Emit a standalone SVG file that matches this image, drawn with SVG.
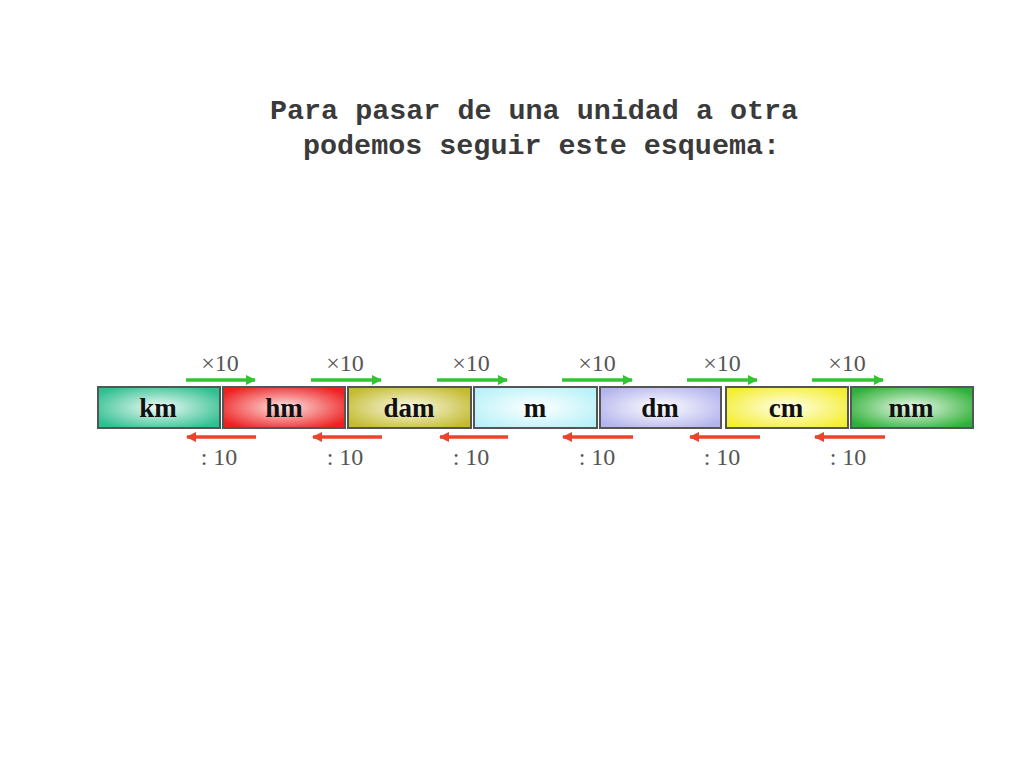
<svg xmlns="http://www.w3.org/2000/svg" width="1024" height="768" viewBox="0 0 1024 768">
<style>
.title{font-family:"Liberation Mono","Courier New",monospace;font-weight:bold;font-size:28.4px;fill:#3a3a3a}
.unit{font-family:"Liberation Serif","Times New Roman",serif;font-weight:bold;font-size:27px;fill:#111;text-anchor:middle}
.lbl{font-family:"Liberation Serif","Times New Roman",serif;font-size:24px;fill:#555;text-anchor:middle}
.box{stroke:#555;stroke-width:2}
.g{stroke:#33c433;stroke-width:3.5;fill:none}
.r{stroke:#e8452c;stroke-width:3.5;fill:none}
</style>
<defs>
<radialGradient id="gkm" cx="0.5" cy="0.5" r="0.6"><stop offset="0" stop-color="#f2fbf7"/><stop offset="1" stop-color="#2fbf90"/></radialGradient>
<radialGradient id="ghm" cx="0.5" cy="0.5" r="0.6"><stop offset="0" stop-color="#fde8e8"/><stop offset="1" stop-color="#ee2020"/></radialGradient>
<radialGradient id="gdam" cx="0.5" cy="0.5" r="0.6"><stop offset="0" stop-color="#fbfae8"/><stop offset="1" stop-color="#c3bb30"/></radialGradient>
<radialGradient id="gm" cx="0.5" cy="0.5" r="0.6"><stop offset="0" stop-color="#ffffff"/><stop offset="1" stop-color="#b8f2f8"/></radialGradient>
<radialGradient id="gdm" cx="0.5" cy="0.5" r="0.6"><stop offset="0" stop-color="#ffffff"/><stop offset="1" stop-color="#b4b4ee"/></radialGradient>
<radialGradient id="gcm" cx="0.5" cy="0.5" r="0.6"><stop offset="0" stop-color="#ffffee"/><stop offset="1" stop-color="#f4ee30"/></radialGradient>
<radialGradient id="gmm" cx="0.5" cy="0.5" r="0.6"><stop offset="0" stop-color="#eef9ee"/><stop offset="1" stop-color="#30b038"/></radialGradient>
<marker id="ag" viewBox="0 0 10 10" refX="9" refY="5" markerWidth="3" markerHeight="3" orient="auto" markerUnits="strokeWidth"><path d="M0,0 L10,5 L0,10 z" fill="#33c433"/></marker>
<marker id="ar" viewBox="0 0 10 10" refX="9" refY="5" markerWidth="3" markerHeight="3" orient="auto" markerUnits="strokeWidth"><path d="M0,0 L10,5 L0,10 z" fill="#e8452c"/></marker>
</defs>
<rect width="1024" height="768" fill="#ffffff"/>
<g id="title">
<text class="title" x="270" y="119">Para pasar de una unidad a otra</text>
<text class="title" x="303" y="154">podemos seguir este esquema:</text>
</g>
<g id="node-km"><rect class="box" x="98" y="387" width="122" height="41" fill="url(#gkm)"/><text class="unit" x="158" y="417">km</text></g>
<g id="node-hm"><rect class="box" x="223" y="387" width="122" height="41" fill="url(#ghm)"/><text class="unit" x="284" y="417">hm</text></g>
<g id="node-dam"><rect class="box" x="348" y="387" width="123" height="41" fill="url(#gdam)"/><text class="unit" x="409" y="417">dam</text></g>
<g id="node-m"><rect class="box" x="474" y="387" width="123" height="41" fill="url(#gm)"/><text class="unit" x="535" y="417">m</text></g>
<g id="node-dm"><rect class="box" x="600" y="387" width="121" height="41" fill="url(#gdm)"/><text class="unit" x="660" y="417">dm</text></g>
<g id="node-cm"><rect class="box" x="726" y="387" width="122" height="41" fill="url(#gcm)"/><text class="unit" x="786" y="417">cm</text></g>
<g id="node-mm"><rect class="box" x="851" y="387" width="122" height="41" fill="url(#gmm)"/><text class="unit" x="911" y="417">mm</text></g>
<g id="connectors">
<line class="g" x1="186" y1="380" x2="255" y2="380" marker-end="url(#ag)"/>
<line class="g" x1="311" y1="380" x2="381" y2="380" marker-end="url(#ag)"/>
<line class="g" x1="437" y1="380" x2="507" y2="380" marker-end="url(#ag)"/>
<line class="g" x1="562" y1="380" x2="632" y2="380" marker-end="url(#ag)"/>
<line class="g" x1="687" y1="380" x2="757" y2="380" marker-end="url(#ag)"/>
<line class="g" x1="812" y1="380" x2="883" y2="380" marker-end="url(#ag)"/>
<line class="r" x1="256" y1="437" x2="187" y2="437" marker-end="url(#ar)"/>
<line class="r" x1="382" y1="437" x2="313" y2="437" marker-end="url(#ar)"/>
<line class="r" x1="508" y1="437" x2="440" y2="437" marker-end="url(#ar)"/>
<line class="r" x1="633" y1="437" x2="563" y2="437" marker-end="url(#ar)"/>
<line class="r" x1="760" y1="437" x2="690" y2="437" marker-end="url(#ar)"/>
<line class="r" x1="885" y1="437" x2="815" y2="437" marker-end="url(#ar)"/>
<text class="lbl" x="220" y="371">×10</text>
<text class="lbl" x="345" y="371">×10</text>
<text class="lbl" x="471" y="371">×10</text>
<text class="lbl" x="597" y="371">×10</text>
<text class="lbl" x="722" y="371">×10</text>
<text class="lbl" x="847" y="371">×10</text>
<text class="lbl" x="219" y="465">: 10</text>
<text class="lbl" x="345" y="465">: 10</text>
<text class="lbl" x="471" y="465">: 10</text>
<text class="lbl" x="597" y="465">: 10</text>
<text class="lbl" x="722" y="465">: 10</text>
<text class="lbl" x="848" y="465">: 10</text>
</g>
</svg>
